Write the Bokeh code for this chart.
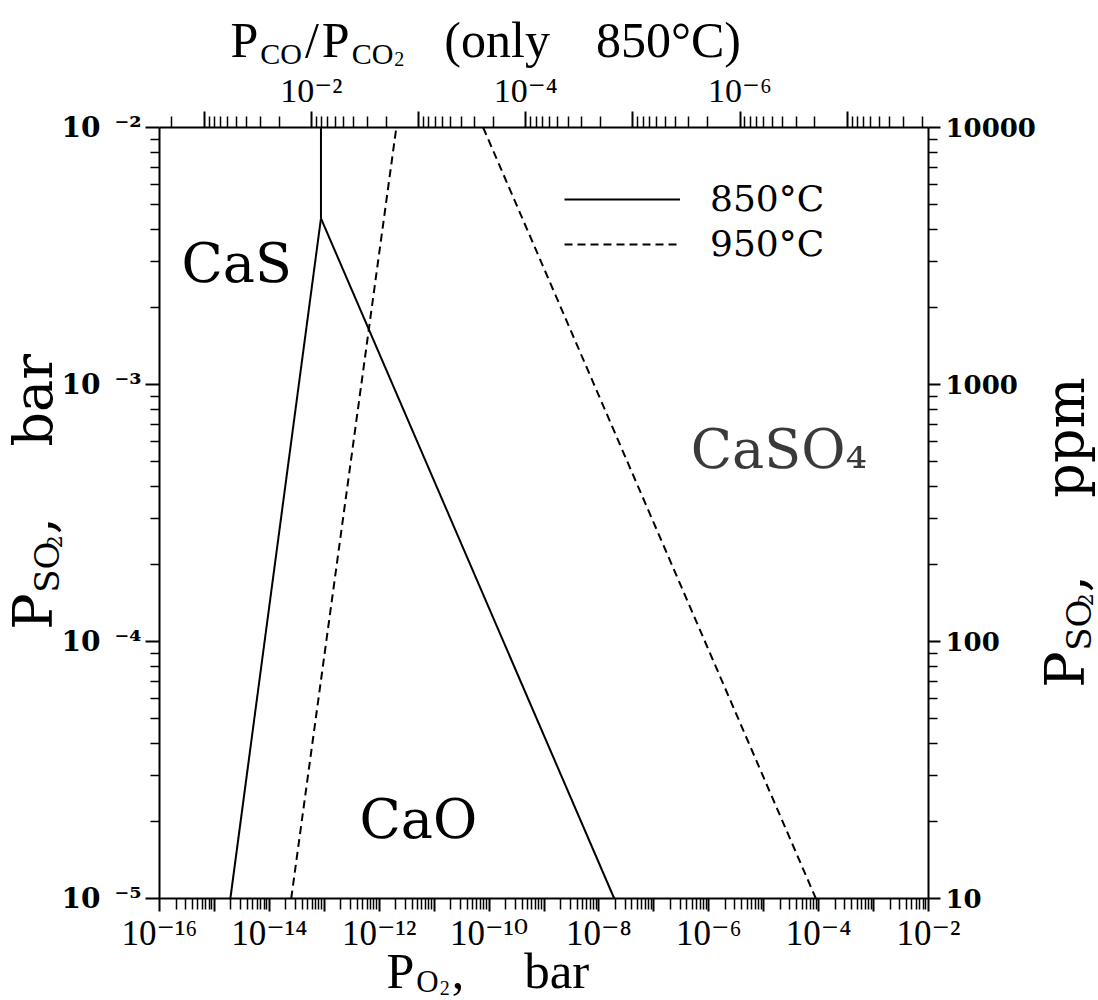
import math

from bokeh.core.properties import value
from bokeh.embed import file_html
from bokeh.layouts import column, row
from bokeh.models import (FixedTicker, Label, Legend, LegendItem, LogAxis,
                          LogScale, Range1d)
from bokeh.plotting import figure
from bokeh.resources import INLINE

# ---- Ca-S-O phase boundaries, partial pressures in bar ----
# 850 °C
o2_cas_caso4_850 = [8.7e-14, 8.7e-14]
so2_cas_caso4_850 = [1.0e-2, 4.43e-3]
o2_cas_cao_850 = [1.95e-15, 8.7e-14]
so2_cas_cao_850 = [1.0e-5, 4.43e-3]
o2_cao_caso4_850 = [8.7e-14, 1.9e-8]
so2_cao_caso4_850 = [4.43e-3, 1.0e-5]
# 950 °C
o2_cas_cao_950 = [2.5e-14, 2.05e-12]
so2_cas_cao_950 = [1.0e-5, 1.0e-2]
o2_cao_caso4_950 = [7.8e-11, 8.9e-5]
so2_cao_caso4_950 = [1.0e-2, 1.0e-5]

temperatures = ["850°C", "950°C"]
phases = ["CaS", "CaO", "CaSO₄"]

# ---- axis decades and tick labels ----
o2_exponents = list(range(-16, -1))            # P_O2, bar
o2_labelled = [-16, -14, -12, -10, -8, -6, -4, -2]
so2_exponents = [-5, -4, -3, -2]               # P_SO2, bar
ppm_ticks = [10, 100, 1000, 10000]             # P_SO2, ppm
ppm_labels = ["10", "100", "1000", "10000"]
co_exponents = [-1, -2, -3, -4, -5, -6, -7]    # P_CO/P_CO2 at 850 °C
co_labelled = [-2, -4, -6]
co_limits = (-0.583, -7.759)

SUP = str.maketrans("-0123456789", "⁻⁰¹²³⁴⁵⁶⁷⁸⁹")
SERIF_NARROW = "Liberation Serif, DejaVu Serif"
MID = 0.35   # distance from the text middle down to the baseline, in em


def power_label(e, gap=""):
    return "10" + gap + str(e).translate(SUP)


def minor_ticks(exps, lo, hi):
    vals = [k * 10.0 ** e for e in exps for k in range(2, 10)]
    return [v for v in vals if lo <= v <= hi]


# page layout: the main plot with title strips around it; each strip
# overlaps the plot's empty border a little so its text has headroom
PAGE_W, PAGE_H = 1098, 1000
TOP_H, BOTTOM_H = 66, 45          # visible share of the page
LEFT_W, RIGHT_W = 58, 56
TOP_X, BOTTOM_X, LEFT_X, RIGHT_X = 18, 30, 22, 24   # overlap with the plot
MAIN_W = PAGE_W - LEFT_W - RIGHT_W
MAIN_H = PAGE_H - TOP_H - BOTTOM_H
FRAME = 771

p = figure(width=MAIN_W, height=MAIN_H, x_axis_type="log", y_axis_type="log",
           x_range=Range1d(1e-16, 1e-2), y_range=Range1d(1e-5, 1e-2),
           output_backend="svg", toolbar_location=None,
           min_border_left=157 - LEFT_W,
           min_border_right=MAIN_W - (157 - LEFT_W) - FRAME,
           min_border_top=127 - TOP_H,
           min_border_bottom=MAIN_H - (127 - TOP_H) - FRAME)
p.extra_x_ranges = {"co": Range1d(10 ** co_limits[0], 10 ** co_limits[1])}
p.extra_x_scales = {"co": LogScale()}
p.extra_y_ranges = {"ppm": Range1d(ppm_ticks[0], ppm_ticks[-1])}
p.extra_y_scales = {"ppm": LogScale()}
p.grid.visible = False
p.outline_line_color = None
p.border_fill_alpha = 0


def style_axis(ax, font, size, style, major_out, minor_out, standoff):
    ax.axis_line_width = 2
    ax.axis_line_color = "black"
    ax.major_tick_line_width = 2
    ax.major_tick_line_color = "black"
    ax.minor_tick_line_width = 1.5
    ax.minor_tick_line_color = "black"
    ax.major_tick_in = 0
    ax.major_tick_out = major_out
    ax.minor_tick_in = 0
    ax.minor_tick_out = minor_out
    ax.major_label_text_font = font
    ax.major_label_text_font_size = size
    ax.major_label_text_font_style = style
    ax.major_label_text_color = "black"
    ax.major_label_standoff = standoff


# bottom: P_O2
xa = p.xaxis[0]
o2_ticks = [10.0 ** e for e in o2_exponents]
xa.ticker = FixedTicker(ticks=o2_ticks,
                        minor_ticks=minor_ticks(range(-16, -2), 1e-16, 1e-2))
xa.major_label_overrides = {
    t: (power_label(e) if e in o2_labelled else "")
    for t, e in zip(o2_ticks, o2_exponents)}
style_axis(xa, SERIF_NARROW, "35px", "normal", 13, 11, 2)

# left: P_SO2 in bar
ya = p.yaxis[0]
so2_ticks = [10.0 ** e for e in so2_exponents]
ya.ticker = FixedTicker(ticks=so2_ticks,
                        minor_ticks=minor_ticks(range(-5, -2), 1e-5, 1e-2))
ya.major_label_overrides = {t: power_label(e, "\u2002")
                            for t, e in zip(so2_ticks, so2_exponents)}
style_axis(ya, "DejaVu Serif", "28px", "bold", 14, 9, 4)

# right: P_SO2 in ppm
ra = LogAxis(y_range_name="ppm")
ra.ticker = FixedTicker(ticks=ppm_ticks,
                        minor_ticks=minor_ticks(range(1, 4), 10, 10000))
ra.major_label_overrides = dict(zip(ppm_ticks, ppm_labels))
style_axis(ra, "DejaVu Serif", "26px", "bold", 12, 9, 5)
p.add_layout(ra, "right")

# top: P_CO/P_CO2 (850 °C only)
ta = LogAxis(x_range_name="co")
co_ticks = [10.0 ** e for e in co_exponents]
ta.ticker = FixedTicker(ticks=co_ticks,
                        minor_ticks=minor_ticks(range(-8, 0), 10 ** co_limits[1],
                                                10 ** co_limits[0]))
ta.major_label_overrides = {
    t: (power_label(e) if e in co_labelled else "")
    for t, e in zip(co_ticks, co_exponents)}
style_axis(ta, SERIF_NARROW, "34px", "normal", 16, 11, 3)
p.add_layout(ta, "above")

# ---- phase boundaries ----
r850 = p.multi_line(xs=[o2_cas_caso4_850, o2_cas_cao_850, o2_cao_caso4_850],
                    ys=[so2_cas_caso4_850, so2_cas_cao_850, so2_cao_caso4_850],
                    line_color="black", line_width=2)
r950 = p.multi_line(xs=[o2_cas_cao_950, o2_cao_caso4_950],
                    ys=[so2_cas_cao_950, so2_cao_caso4_950],
                    line_color="black", line_width=2, line_dash="8 5")

legend = Legend(items=[LegendItem(label=temperatures[0], renderers=[r850]),
                       LegendItem(label=temperatures[1], renderers=[r950])],
                location=(405, 634), orientation="vertical",
                glyph_width=116, glyph_height=20, label_standoff=30,
                spacing=4, padding=0, margin=0,
                border_line_alpha=0, background_fill_alpha=0,
                label_text_font="DejaVu Serif", label_text_font_size="36px",
                label_text_color="black")
p.add_layout(legend)

# ---- phase field names (anchored at the left end of their baseline) ----
for name, x, y, color in [(phases[0], 10 ** -15.6, 10 ** -2.603, "black"),
                          (phases[1], 10 ** -12.36, 10 ** -4.767, "black"),
                          (phases[2], 10 ** -6.33, 10 ** -3.327, "#3a3a3a")]:
    size = 54
    p.add_layout(Label(x=x, y=y, y_offset=MID * size, text=name,
                       text_font="DejaVu Serif", text_font_size=f"{size}px",
                       text_color=color, text_align="left",
                       text_baseline="middle"))


# ---- title strips (coordinates are page pixels, y downward) ----
def strip(width, height, x0, y0, margin):
    s = figure(width=width, height=height,
               x_range=Range1d(x0, x0 + width), y_range=Range1d(y0 + height, y0),
               output_backend="svg", toolbar_location=None,
               x_axis_location=None, y_axis_location=None, min_border=0,
               margin=margin)
    s.outline_line_color = None
    s.background_fill_alpha = 0
    s.border_fill_alpha = 0
    s.grid.visible = False
    return s


WIDTHS = {
    "Liberation Serif": {"P": .556, "C": .667, "O": .722, "S": .556, "/": .278,
                         "(": .333, ")": .333, "o": .5, "n": .5, "l": .278,
                         "y": .5, " ": .25, "8": .5, "5": .5, "0": .5,
                         "°": .4, ",": .25, "b": .5, "a": .444, "r": .333,
                         "2": .5, "p": .5, "m": .778},
    "DejaVu Serif": {"P": .733, "C": .715, "O": .787, "S": .685, "/": .337,
                     "(": .39, ")": .39, "o": .602, "n": .644, "l": .32,
                     "y": .592, " ": .318, "8": .636, "5": .636, "0": .636,
                     "°": .5, ",": .318, "b": .64, "a": .596, "r": .478,
                     "2": .636, "p": .64, "m": .948},
}


def text_width(s, size, font):
    return sum(WIDTHS[font].get(c, .6) for c in s) * size


def title_runs(fig, runs, x0, y0, font, rotated=False):
    """runs: (text, size, drop, gap_before); (x0, y0) is the start of the
    baseline. Horizontal runs advance in +x and drop in +y; rotated runs read
    upward (advance in -y, drop in +x)."""
    pos = 0.0
    for text, size, drop, gap in runs:
        pos += gap
        lift = MID * size
        if rotated:
            x, y, ang = x0 + drop - lift, y0 - pos, math.pi / 2
        else:
            x, y, ang = x0 + pos, y0 + drop - lift, 0.0
        fig.text(x=[x], y=[y], text=[text], angle=ang,
                 text_font=value(font), text_font_size=value(f"{size}px"),
                 text_color="black", text_align="left",
                 text_baseline="middle")
        pos += text_width(text, size, font)


top = strip(PAGE_W, TOP_H + TOP_X, 0, 0, (0, 0, -TOP_X, 0))
title_runs(top, [("P", 50, 0, 0), ("CO", 30, 6, 2), ("/", 50, 0, 3),
                 ("P", 50, 0, 3), ("CO", 30, 6, 2), ("2", 20, 8, 1),
                 ("(only", 50, 0, 40), ("850°C)", 50, 0, 46)],
           230, 57, "Liberation Serif")

bottom = strip(PAGE_W, BOTTOM_H + BOTTOM_X, 0, PAGE_H - BOTTOM_H - BOTTOM_X,
               (-BOTTOM_X, 0, 0, 0))
title_runs(bottom, [("P", 50, 0, 0), ("O", 31, 4, 2), ("2", 20, 6, 1),
                    (",", 50, 0, 2), ("bar", 51, 0, 60)],
           386, 988, "Liberation Serif")

left = strip(LEFT_W + LEFT_X, MAIN_H, 0, TOP_H, (0, -LEFT_X, 0, 0))
title_runs(left, [("P", 54, 0, 0), ("SO", 34, 6, 3), ("2", 21, 9, 1),
                  (",", 54, 0, 3), ("bar", 54, 0, 84)],
           52, 645, "DejaVu Serif", rotated=True)

right = strip(RIGHT_W + RIGHT_X, MAIN_H, PAGE_W - RIGHT_W - RIGHT_X, TOP_H,
              (0, 0, 0, -RIGHT_X))
title_runs(right, [("P", 54, 0, 0), ("SO", 34, 6, 3), ("2", 21, 8, 1),
                   (",", 54, 0, 3), ("ppm", 54, 0, 92)],
           1084, 712, "DejaVu Serif", rotated=True)

page = column(top, row(left, p, right), bottom)
open("out.html", "w").write(file_html(page, INLINE))
